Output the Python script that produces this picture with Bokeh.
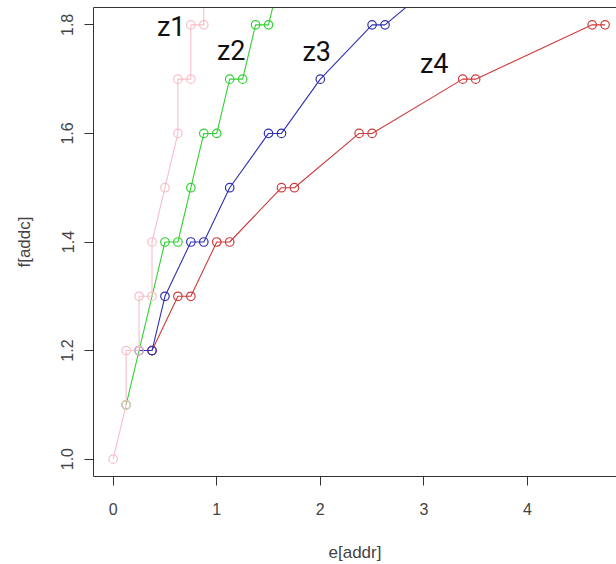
from bokeh.plotting import figure
from bokeh.models import ColumnDataSource, FixedTicker, LinearAxis, Range1d
from bokeh.core.properties import value
from bokeh.embed import file_html
from bokeh.resources import INLINE

# ---- data ----
z1_x = [0, 0.125, 0.125, 0.25, 0.25, 0.375, 0.375, 0.5, 0.625, 0.625, 0.75, 0.75, 0.875, 0.875]
z1_y = [1.0, 1.1, 1.2, 1.2, 1.3, 1.3, 1.4, 1.5, 1.6, 1.7, 1.7, 1.8, 1.8, 1.9]

z2_x = [0.125, 0.5, 0.625, 0.75, 0.875, 1.0, 1.125, 1.25, 1.375, 1.5, 1.625]
z2_y = [1.1, 1.4, 1.4, 1.5, 1.6, 1.6, 1.7, 1.7, 1.8, 1.8, 1.9]

z3_x = [0.25, 0.375, 0.5, 0.75, 0.875, 1.125, 1.5, 1.625, 2.0, 2.5, 2.625, 3.25]
z3_y = [1.2, 1.2, 1.3, 1.4, 1.4, 1.5, 1.6, 1.6, 1.7, 1.8, 1.8, 1.9]

z4_x = [0.375, 0.625, 0.75, 1.0, 1.125, 1.625, 1.75, 2.375, 2.5, 3.375, 3.5, 4.625, 4.75]
z4_y = [1.2, 1.3, 1.3, 1.4, 1.4, 1.5, 1.5, 1.6, 1.6, 1.7, 1.7, 1.8, 1.8]

label_names = ["z1", "z2", "z3", "z4"]
label_x = [0.56, 1.14, 1.965, 3.10]
label_y = [1.796, 1.751, 1.750, 1.727]

x_ticks = [0, 1, 2, 3, 4]
y_ticks = [1.0, 1.2, 1.4, 1.6, 1.8]
y_tick_labels = ["1.0", "1.2", "1.4", "1.6", "1.8"]

colors = {"z1": "#F5BFC8", "z2": "#33D033", "z3": "#3030B0", "z4": "#CD3B3B"}

AX_FONT = "Liberation Sans"
AX_COL = "#444444"
LINE_COL = "#333333"

p = figure(
    output_backend="svg", toolbar_location=None,
    width=616, height=564,
    min_border_left=93, min_border_right=0, min_border_top=7, min_border_bottom=88,
    x_range=Range1d(-0.19, 4.86), y_range=Range1d(0.968, 1.832),
    x_axis_label="e[addr]", y_axis_label="f[addc]",
)
p.outline_line_color = None
p.xgrid.visible = False
p.ygrid.visible = False
p.background_fill_color = "white"
p.border_fill_color = "white"

for ax in (p.xaxis[0], p.yaxis[0]):
    ax.axis_line_color = LINE_COL
    ax.axis_line_width = 1
    ax.major_tick_line_color = LINE_COL
    ax.major_tick_in = 0
    ax.major_tick_out = 9
    ax.minor_tick_line_color = None
    ax.major_label_text_font = AX_FONT
    ax.major_label_text_font_size = "16px"
    ax.major_label_text_color = AX_COL
    ax.axis_label_text_font = AX_FONT
    ax.axis_label_text_font_size = "17px"
    ax.axis_label_text_font_style = "normal"
    ax.axis_label_text_color = AX_COL

p.xaxis.ticker = FixedTicker(ticks=x_ticks)
p.xaxis.major_label_standoff = 17
p.xaxis.axis_label_standoff = 25

p.yaxis.ticker = FixedTicker(ticks=y_ticks)
p.yaxis.major_label_overrides = {t: s for t, s in zip(y_ticks, y_tick_labels)}
p.yaxis.major_label_orientation = "vertical"
p.yaxis.major_label_standoff = 11
p.yaxis.axis_label_standoff = 25

# top border line
top_axis = LinearAxis(ticker=FixedTicker(ticks=[]), axis_line_color=LINE_COL,
                      major_tick_line_color=None, minor_tick_line_color=None,
                      major_label_text_font_size="0px")
p.add_layout(top_axis, "above")

series = [("z4", z4_x, z4_y), ("z3", z3_x, z3_y), ("z2", z2_x, z2_y), ("z1", z1_x, z1_y)]
for name, xs, ys in series:
    src = ColumnDataSource(dict(x=xs, y=ys))
    c = colors[name]
    p.line("x", "y", source=src, line_color=c, line_width=1.1)
    p.scatter("x", "y", source=src, marker="circle", size=8.5,
              fill_color=None, line_color=c, line_width=1.2)

lab_src = ColumnDataSource(dict(x=label_x, y=label_y, t=label_names))
p.text("x", "y", text="t", source=lab_src, text_font=value("Roboto"),
       text_font_size="27px", text_color="#111111",
       text_align="center", text_baseline="middle")

open("out.html", "w").write(file_html(p, INLINE))
